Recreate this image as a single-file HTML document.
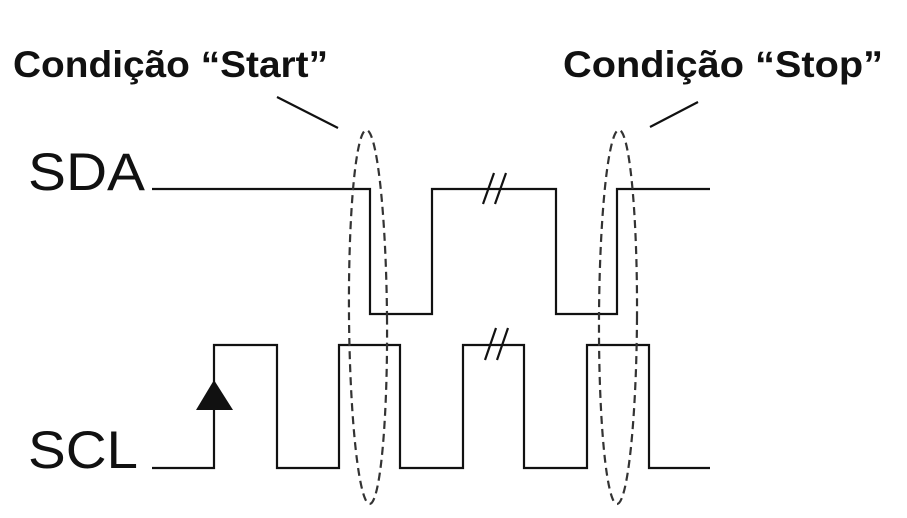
<!DOCTYPE html>
<html><head><meta charset="utf-8"><style>
html,body{margin:0;padding:0;background:#fff;}
svg{display:block;}
</style></head><body>
<svg width="907" height="518" viewBox="0 0 907 518" xmlns="http://www.w3.org/2000/svg" font-family="Liberation Sans, Arial, sans-serif">
<rect width="907" height="518" fill="#fff"/>
<text x="13" y="77" font-size="37" font-weight="bold" textLength="315" lengthAdjust="spacingAndGlyphs" fill="#111">Condição “Start”</text>
<text x="563" y="77" font-size="37" font-weight="bold" textLength="320" lengthAdjust="spacingAndGlyphs" fill="#111">Condição “Stop”</text>
<text x="28" y="190" font-size="53" textLength="117" lengthAdjust="spacingAndGlyphs" fill="#111">SDA</text>
<text x="28" y="468" font-size="53" textLength="110" lengthAdjust="spacingAndGlyphs" fill="#111">SCL</text>
<g stroke="#111" stroke-width="2.2" fill="none">
<line x1="277" y1="97" x2="338" y2="128"/>
<line x1="650" y1="127" x2="698" y2="102"/>
<polyline points="152,189 370,189 370,314 432,314 432,189 556,189 556,314 617,314 617,189 710,189"/>
<polyline points="152,468 214,468 214,345 277,345 277,468 339,468 339,345 400,345 400,468 463,468 463,345 524,345 524,468 587,468 587,345 649,345 649,468 710,468"/>
<line x1="483" y1="204" x2="494" y2="173"/>
<line x1="495" y1="204" x2="506" y2="173"/>
<line x1="485" y1="360" x2="496" y2="328"/>
<line x1="497" y1="360" x2="508" y2="328"/>
</g>
<polygon points="214,380 196,410 233,410" fill="#111"/>
<g stroke="#333" stroke-width="2.2" fill="none" stroke-dasharray="8,5">
<ellipse cx="368" cy="317" rx="19" ry="187" transform="rotate(-0.5 368 317)"/>
<ellipse cx="618" cy="317" rx="19" ry="187" transform="rotate(0.3 618 317)"/>
</g>
</svg>
</body></html>
